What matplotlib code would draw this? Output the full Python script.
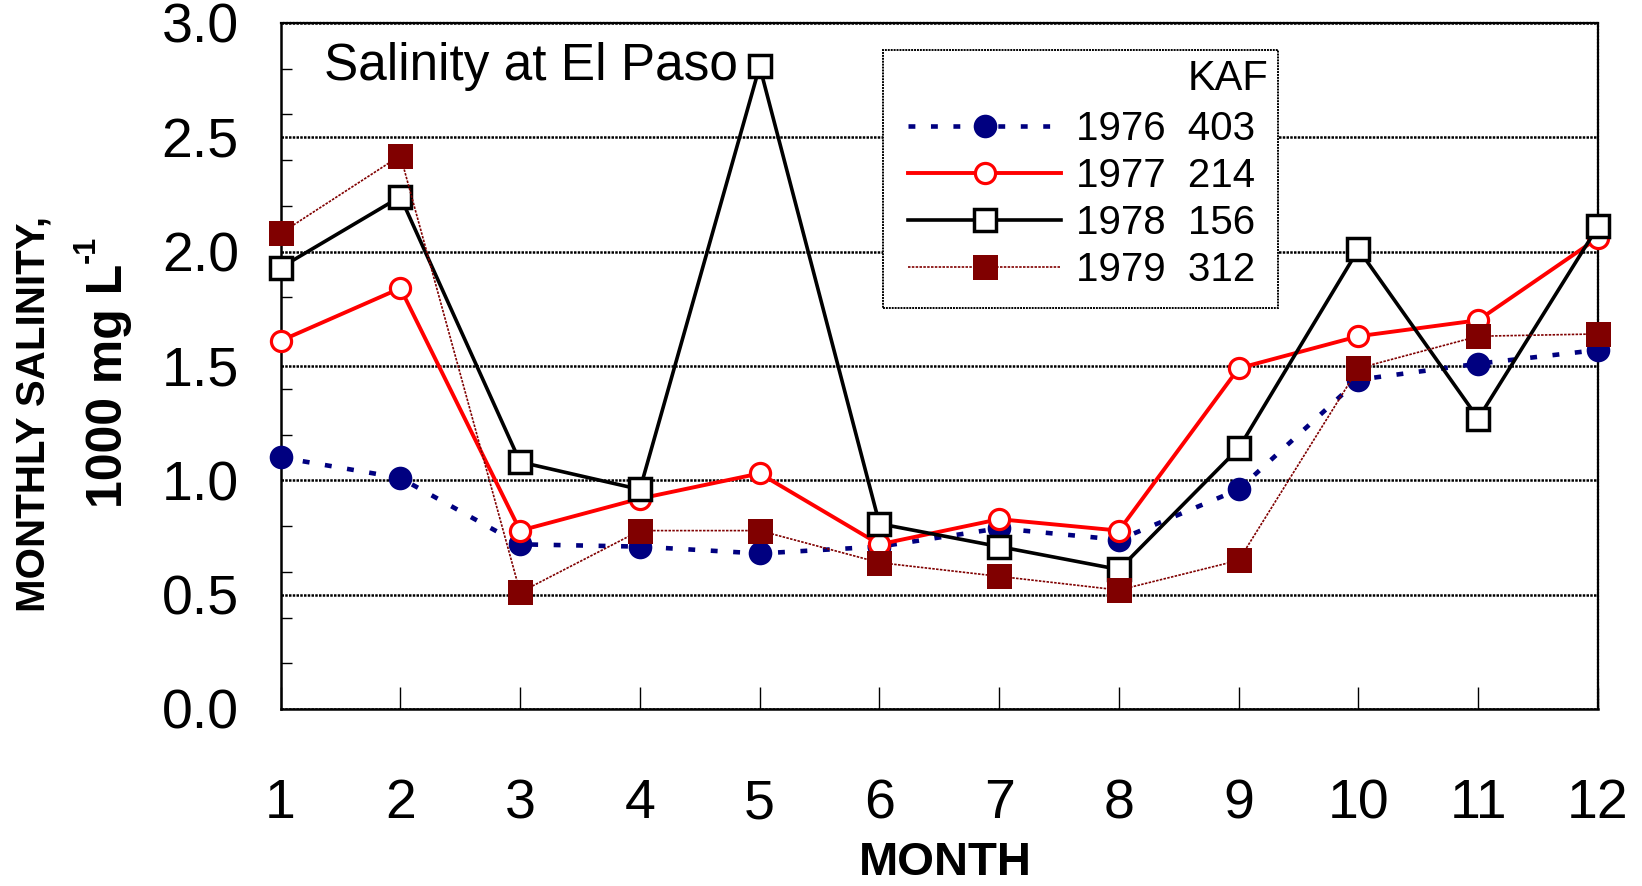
import numpy as np
import matplotlib
matplotlib.use("Agg")
import matplotlib.pyplot as plt
from matplotlib import font_manager
from matplotlib.patches import Rectangle
from matplotlib.lines import Line2D
from matplotlib.ticker import MultipleLocator

# monthly salinity, 1000 mg/L, El Paso
months = list(range(1, 13))
sal_1976 = [1.10, 1.01, 0.72, 0.71, 0.68, 0.71, 0.79, 0.74, 0.96, 1.44, 1.51, 1.57]
sal_1977 = [1.61, 1.84, 0.78, 0.92, 1.03, 0.72, 0.83, 0.78, 1.49, 1.63, 1.70, 2.06]
sal_1978 = [1.93, 2.24, 1.08, 0.96, 2.81, 0.81, 0.71, 0.61, 1.14, 2.01, 1.27, 2.11]
sal_1979 = [2.08, 2.42, 0.51, 0.78, 0.78, 0.64, 0.58, 0.52, 0.65, 1.49, 1.63, 1.64]

years = ['1976', '1977', '1978', '1979']
kaf = [403, 214, 156, 312]

plt.rcParams['font.family'] = ['Liberation Sans', 'DejaVu Sans']

names = {f.name for f in font_manager.fontManager.ttflist}
if 'Liberation Sans Narrow' in names:
	ylab_font, ylab_size = 'Liberation Sans Narrow', 34
else:
	ylab_font, ylab_size = 'Liberation Sans', 29

styles = [
	dict(color='#000080', ls=(0, (1.5, 3.4)), lw=3.3, marker='o', ms=17, mfc='#000080', mec='#000080', mew=0),
	dict(color='#ff0000', ls='-', lw=2.8, marker='o', ms=14.5, mfc='white', mec='#ff0000', mew=2.3),
	dict(color='black', ls='-', lw=2.6, marker='s', ms=15.5, mfc='white', mec='black', mew=2.5),
	dict(color='#800000', ls=(0, (1.5, 0.8)), lw=1.2, marker='s', ms=18, mfc='#800000', mec='#800000', mew=0),
]
series = [sal_1976, sal_1977, sal_1978, sal_1979]

fig = plt.figure(figsize=(16.42, 8.86), dpi=100)
ax = fig.add_axes([0.1709, 0.1998, 0.8023, 0.7743])

for vals, st in zip(series, styles):
	ax.plot(months, vals, clip_on=False, zorder=5, **st)

ax.set_xlim(1, 12)
ax.set_ylim(0, 3)
ax.set_xticks(months)
ax.yaxis.set_major_locator(MultipleLocator(0.5))
ax.yaxis.set_minor_locator(MultipleLocator(0.2))
ax.yaxis.set_major_formatter(matplotlib.ticker.FormatStrFormatter('%.1f'))

ax.tick_params(axis='x', direction='in', length=16, width=1, labelsize=40, pad=50)
ax.tick_params(axis='y', which='major', direction='in', length=0, labelsize=40, pad=30)
ax.tick_params(axis='y', which='minor', direction='in', length=8, width=1)

ax.yaxis.grid(True, which='major', color='black', lw=1.8, ls=(0, (1, 0.5)))
ax.set_axisbelow(True)

for side in ['left', 'bottom']:
	ax.spines[side].set_linewidth(1.8)
for side in ['top', 'right']:
	ax.spines[side].set_linewidth(1.6)
	ax.spines[side].set_linestyle((0, (1, 0.5)))

ax.text(0.033, 0.917, 'Salinity at El Paso', transform=ax.transAxes,
	fontsize=37, va='baseline', ha='left', zorder=6)

# legend box with a KAF column
ax.add_patch(Rectangle((0.457, 0.5845), 0.300, 0.376, transform=ax.transAxes,
	facecolor='white', edgecolor='black', lw=1.4, ls=(0, (1, 0.5)), zorder=3))
ax.text(0.750, 0.902, 'KAF', transform=ax.transAxes, fontsize=30,
	ha='right', va='baseline', zorder=4)

handles = [Line2D([], [], **st) for st in styles]
labels = ['%s  %d' % (y, k) for y, k in zip(years, kaf)]
leg = ax.legend(handles, labels, loc='upper left', bbox_to_anchor=(0.4763, 0.873),
	frameon=False, fontsize=29, borderpad=0, borderaxespad=0, handlelength=3.8,
	handletextpad=0.38, labelspacing=0.22, numpoints=1)
leg.set_zorder(4)

fig.text(0.0204, 0.533, 'MONTHLY SALINITY,', rotation=90, ha='center', va='center',
	fontsize=ylab_size, fontweight='bold', family=ylab_font)
fig.text(0.0664, 0.565, '1000 mg L', rotation=90, ha='center', va='center',
	fontsize=36, fontweight='bold')
fig.text(0.0530, 0.718, '-1', rotation=90, ha='center', va='center',
	fontsize=22, fontweight='bold')
fig.text(0.576, 0.001, 'MONTH', ha='center', va='bottom', fontsize=34, fontweight='bold')

fig.savefig('out.png', dpi=100)
